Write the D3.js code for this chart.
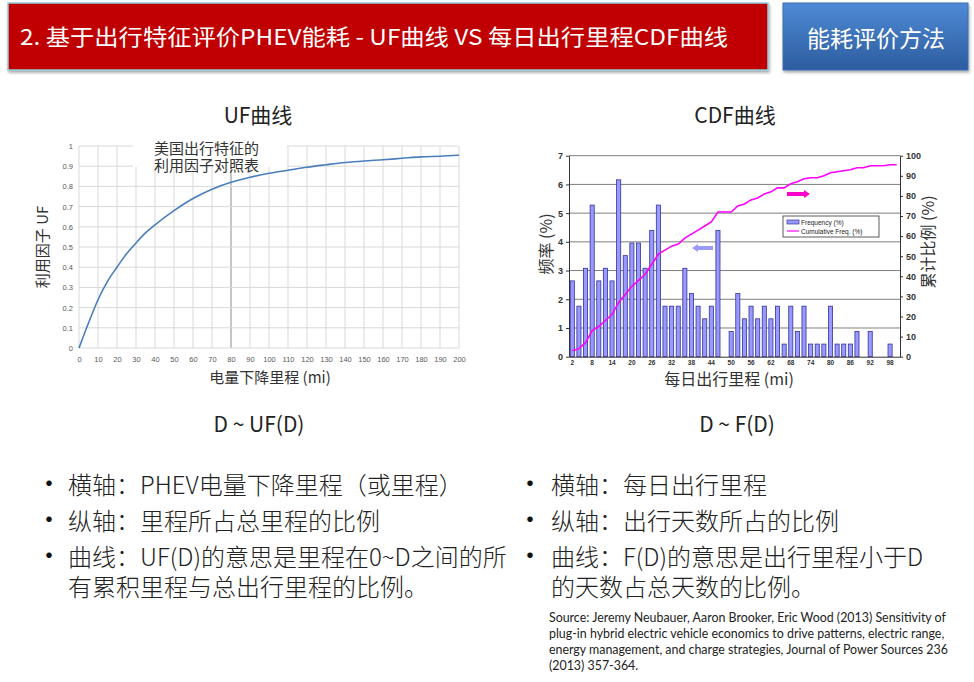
<!DOCTYPE html>
<html>
<head>
<meta charset="utf-8">
<script src="https://cdn.jsdelivr.net/npm/d3@7"></script>
<style>
  body { margin: 0; background: #fff; }
  svg { display: block; }
  text { font-family: "Noto Sans CJK SC", "Noto Sans", sans-serif; }
</style>
</head>
<body>
<svg width="974" height="682"></svg>
<script>
const svg = d3.select("svg");

// UF curve (utility factor vs charge-depleting range)
const ufMiles = [0, 5, 10, 15, 20, 25, 30, 35, 40, 50, 60, 70, 80, 90, 100, 110, 120, 130, 140, 150, 160, 170, 180, 190, 200];
const ufValues = [0, 0.124, 0.239, 0.33, 0.40, 0.466, 0.52, 0.57, 0.61, 0.68, 0.74, 0.786, 0.82, 0.845, 0.865, 0.88, 0.895, 0.907, 0.918, 0.926, 0.932, 0.939, 0.946, 0.949, 0.954];
const ufXTicks = [0, 10, 20, 30, 40, 50, 60, 70, 80, 90, 100, 110, 120, 130, 140, 150, 160, 170, 180, 190, 200];
const ufYTicks = [0, 0.1, 0.2, 0.3, 0.4, 0.5, 0.6, 0.7, 0.8, 0.9, 1];

// daily distance distribution
const dailyMiles = [2, 4, 6, 8, 10, 12, 14, 16, 18, 20, 22, 24, 26, 28, 30, 32, 34, 36, 38, 40,
    42, 44, 46, 48, 50, 52, 54, 56, 58, 60, 62, 64, 66, 68, 70, 72, 74, 76, 78, 80,
    82, 84, 86, 88, 90, 92, 94, 96, 98, 100];
const frequency = [2.64, 1.76, 3.08, 5.28, 2.64, 3.08, 2.64, 6.16, 3.52, 3.96, 3.96, 3.08, 4.40, 5.28, 1.76, 1.76, 1.76, 3.08, 2.20, 1.76,
    1.32, 1.76, 4.40, 0, 0.88, 2.20, 1.32, 1.76, 1.32, 1.76, 1.32, 1.76, 0.44, 1.76, 0.88, 1.76, 0.44, 0.44, 0.44, 1.76,
    0.44, 0.44, 0.44, 0.88, 0, 0.88, 0, 0, 0.44, 0];
const cumulative = [3, 4, 7, 13, 15, 18, 21, 27, 31, 35, 38, 41, 46, 51, 53, 55, 56, 59, 61, 63,
    65, 67, 72, 72, 72, 75, 76, 78, 79, 81, 82, 84, 84, 86, 87, 88.5, 89, 89, 90, 91.5,
    92, 92.5, 93, 94, 94, 95, 95, 95, 95.5, 95.5];
const cdfXTicks = [2, 8, 14, 20, 26, 32, 38, 44, 50, 56, 62, 68, 74, 80, 86, 92, 98];
const freqTicks = [0, 1, 2, 3, 4, 5, 6, 7];
const cumTicks = [0, 10, 20, 30, 40, 50, 60, 70, 80, 90, 100];

// ---------- header ----------
const defs = svg.append("defs");
const grad = defs.append("linearGradient").attr("id", "blueGrad")
    .attr("x1", 0).attr("y1", 0).attr("x2", 0).attr("y2", 1);
grad.append("stop").attr("offset", "0%").attr("stop-color", "#4f8ad6");
grad.append("stop").attr("offset", "100%").attr("stop-color", "#2c5c9e");

const shadow = defs.append("filter").attr("id", "shadow")
    .attr("x", "-5%").attr("y", "-10%").attr("width", "110%").attr("height", "130%");
shadow.append("feDropShadow").attr("dx", 1).attr("dy", 2).attr("stdDeviation", 1.5)
    .attr("flood-color", "#000").attr("flood-opacity", 0.35);

svg.append("rect")
    .attr("x", 8).attr("y", 3).attr("width", 760).attr("height", 67)
    .attr("fill", "#c00000").attr("stroke", "#92cddc").attr("stroke-width", 1.5)
    .attr("filter", "url(#shadow)");

svg.append("text")
    .attr("x", 20).attr("y", 45)
    .attr("fill", "#fff")
    .style("font-size", "22px")
    .attr("textLength", 708).attr("lengthAdjust", "spacingAndGlyphs")
    .text("2.  基于出行特征评价PHEV能耗 - UF曲线 VS 每日出行里程CDF曲线");

svg.append("rect")
    .attr("x", 783).attr("y", 3).attr("width", 185).attr("height", 67)
    .attr("fill", "url(#blueGrad)").attr("stroke", "#3a6fb5")
    .attr("filter", "url(#shadow)");

svg.append("text")
    .attr("x", 876).attr("y", 47)
    .attr("text-anchor", "middle")
    .attr("fill", "#fff")
    .style("font-size", "23px")
    .text("能耗评价方法");

// ---------- titles ----------
svg.append("text").attr("x", 258).attr("y", 123).attr("text-anchor", "middle")
    .style("font-size", "21px").attr("fill", "#222").text("UF曲线");
svg.append("text").attr("x", 735).attr("y", 123).attr("text-anchor", "middle")
    .style("font-size", "21px").attr("fill", "#222").text("CDF曲线");
svg.append("text").attr("x", 259).attr("y", 432).attr("text-anchor", "middle")
    .style("font-size", "21px").attr("fill", "#222").text("D ~ UF(D)");
svg.append("text").attr("x", 737).attr("y", 432).attr("text-anchor", "middle")
    .style("font-size", "21px").attr("fill", "#222").text("D ~ F(D)");

// ---------- UF chart ----------
const uf = { left: 79, right: 459, top: 146, bottom: 348 };

const ufX = d3.scaleLinear().domain([0, 200]).range([uf.left, uf.right]);
const ufY = d3.scaleLinear().domain([0, 1]).range([uf.bottom, uf.top]);

const ufGrid = svg.append("g");
ufGrid.selectAll(".vg")
    .data(ufXTicks)
    .enter()
    .append("line")
    .attr("x1", d => ufX(d)).attr("x2", d => ufX(d))
    .attr("y1", uf.top).attr("y2", uf.bottom)
    .attr("stroke", d => d === 80 ? "#8c8c8c" : "#d9d9d9")
    .attr("stroke-width", 1);
ufGrid.selectAll(".hg")
    .data(ufYTicks)
    .enter()
    .append("line")
    .attr("x1", uf.left).attr("x2", uf.right)
    .attr("y1", d => ufY(d)).attr("y2", d => ufY(d))
    .attr("stroke", "#d9d9d9")
    .attr("stroke-width", 1);

const ufXAxis = svg.append("g")
    .attr("transform", `translate(0,${uf.bottom})`)
    .call(d3.axisBottom(ufX).tickValues(ufXTicks).tickSize(0).tickPadding(9));
ufXAxis.select(".domain").remove();
ufXAxis.selectAll("text").attr("fill", "#595959").style("font-size", "7.5px")
    .style("font-family", "Liberation Sans, Arial, sans-serif");

const ufYAxis = svg.append("g")
    .attr("transform", `translate(${uf.left},0)`)
    .call(d3.axisLeft(ufY).tickValues(ufYTicks).tickSize(0).tickPadding(6).tickFormat(d3.format("")));
ufYAxis.select(".domain").remove();
ufYAxis.selectAll("text").attr("fill", "#595959").style("font-size", "7.5px")
    .style("font-family", "Liberation Sans, Arial, sans-serif");

const ufLine = d3.line()
    .x((d, i) => ufX(ufMiles[i]))
    .y(d => ufY(d))
    .curve(d3.curveMonotoneX);

svg.append("path")
    .datum(ufValues)
    .attr("d", ufLine)
    .attr("fill", "none")
    .attr("stroke", "#4a7ebb")
    .attr("stroke-width", 1.6);

// note box
svg.append("rect")
    .attr("x", 133).attr("y", 137).attr("width", 154).attr("height", 30)
    .attr("fill", "#fff");
const note = svg.append("text")
    .style("font-size", "15px").attr("fill", "#333");
note.append("tspan").attr("x", 154).attr("y", 154).text("美国出行特征的");
note.append("tspan").attr("x", 154).attr("y", 171).text("利用因子对照表");

svg.append("text")
    .attr("transform", "translate(48,247) rotate(-90)")
    .attr("text-anchor", "middle")
    .style("font-size", "15px").attr("fill", "#333")
    .text("利用因子 UF");

svg.append("text")
    .attr("x", 270).attr("y", 383)
    .attr("text-anchor", "middle")
    .style("font-size", "15px").attr("fill", "#333")
    .text("电量下降里程 (mi)");

// ---------- CDF chart ----------
const cdf = { left: 569, right: 900, top: 155.7, bottom: 356.7 };

const cdfX = d3.scaleBand()
    .domain(dailyMiles)
    .range([cdf.left, cdf.right])
    .paddingInner(0.38)
    .paddingOuter(0.19);

const freqY = d3.scaleLinear().domain([0, 7]).range([cdf.bottom, cdf.top]);
const cumY = d3.scaleLinear().domain([0, 100]).range([cdf.bottom, cdf.top]);

svg.append("g").selectAll("line")
    .data(freqTicks.slice(1))
    .enter()
    .append("line")
    .attr("x1", cdf.left).attr("x2", cdf.right)
    .attr("y1", d => freqY(d)).attr("y2", d => freqY(d))
    .attr("stroke", "#7f7f7f").attr("stroke-width", 1);

svg.append("g").selectAll("rect")
    .data(frequency)
    .enter()
    .append("rect")
    .attr("x", (d, i) => cdfX(dailyMiles[i]))
    .attr("y", d => freqY(d))
    .attr("width", cdfX.bandwidth())
    .attr("height", d => cdf.bottom - freqY(d))
    .attr("fill", "#9999ff")
    .attr("stroke", "#333399")
    .attr("stroke-width", d => d > 0 ? 0.8 : 0);

const cumLine = d3.line()
    .x((d, i) => cdfX(dailyMiles[i]) + cdfX.bandwidth() / 2)
    .y(d => cumY(d));

svg.append("path")
    .datum(cumulative)
    .attr("d", cumLine)
    .attr("fill", "none")
    .attr("stroke", "#ff00ff")
    .attr("stroke-width", 1.6);

const tickFont = "Liberation Sans, Arial, sans-serif";

const cdfXAxis = svg.append("g")
    .attr("transform", `translate(0,${cdf.bottom})`)
    .call(d3.axisBottom(cdfX).tickValues(cdfXTicks).tickSize(0).tickPadding(4));
cdfXAxis.select(".domain").attr("stroke", "#333");
cdfXAxis.selectAll("text").attr("fill", "#333").style("font-size", "6.5px")
    .style("font-weight", "bold").style("font-family", tickFont);

const freqAxis = svg.append("g")
    .attr("transform", `translate(${cdf.left},0)`)
    .call(d3.axisLeft(freqY).tickValues(freqTicks).tickSize(3).tickSizeOuter(0).tickPadding(3)
        .tickFormat(d3.format("d")));
freqAxis.select(".domain").attr("stroke", "#333");
freqAxis.selectAll("line").attr("stroke", "#333");
freqAxis.selectAll("text").attr("fill", "#333").style("font-size", "9px")
    .style("font-weight", "bold").style("font-family", tickFont);

const cumAxis = svg.append("g")
    .attr("transform", `translate(${cdf.right},0)`)
    .call(d3.axisRight(cumY).tickValues(cumTicks).tickSize(3).tickSizeOuter(0).tickPadding(3)
        .tickFormat(d3.format("d")));
cumAxis.select(".domain").attr("stroke", "#333");
cumAxis.selectAll("line").attr("stroke", "#333");
cumAxis.selectAll("text").attr("fill", "#333").style("font-size", "9px")
    .style("font-weight", "bold").style("font-family", tickFont);

// legend
const legend = svg.append("g").attr("transform", "translate(783,216)");
legend.append("rect").attr("width", 96).attr("height", 21)
    .attr("fill", "#fff").attr("stroke", "#333").attr("stroke-width", 0.8);
legend.append("rect").attr("x", 4).attr("y", 4).attr("width", 12).attr("height", 4)
    .attr("fill", "#9999ff").attr("stroke", "#333399").attr("stroke-width", 0.7);
legend.append("text").attr("x", 18).attr("y", 9)
    .style("font-size", "6.5px").style("font-family", tickFont).attr("fill", "#222")
    .text("Frequency (%)");
legend.append("line").attr("x1", 4).attr("x2", 16).attr("y1", 15).attr("y2", 15)
    .attr("stroke", "#ff00ff").attr("stroke-width", 1.2);
legend.append("text").attr("x", 18).attr("y", 17.5)
    .style("font-size", "6.5px").style("font-family", tickFont).attr("fill", "#222")
    .text("Cumulative Freq. (%)");

// arrows
function arrow(x1, x2, y, color) {
    const dir = x2 > x1 ? 1 : -1;
    const head = 6 * dir;
    svg.append("path")
        .attr("d", `M${x1},${y - 2} L${x2 - head},${y - 2} L${x2 - head},${y - 4} L${x2},${y} ` +
            `L${x2 - head},${y + 4} L${x2 - head},${y + 2} L${x1},${y + 2} Z`)
        .attr("fill", color);
}
arrow(713, 692, 248, "#9999ff");
arrow(787, 810, 194, "#ff00cc");

svg.append("text")
    .attr("transform", "translate(552,244) rotate(-90)")
    .attr("text-anchor", "middle")
    .style("font-size", "16px").attr("fill", "#333")
    .text("频率 (%)");

svg.append("text")
    .attr("transform", "translate(934,242) rotate(-90)")
    .attr("text-anchor", "middle")
    .style("font-size", "16px").attr("fill", "#333")
    .text("累计比例 (%)");

svg.append("text")
    .attr("x", 729).attr("y", 385)
    .attr("text-anchor", "middle")
    .style("font-size", "16px").attr("fill", "#333")
    .text("每日出行里程 (mi)");

// ---------- bullets ----------
const leftBullets = [
    ["横轴：PHEV电量下降里程（或里程）"],
    ["纵轴：里程所占总里程的比例"],
    ["曲线：UF(D)的意思是里程在0~D之间的所", "有累积里程与总出行里程的比例。"]
];
const rightBullets = [
    ["横轴：每日出行里程"],
    ["纵轴：出行天数所占的比例"],
    ["曲线：F(D)的意思是出行里程小于D", "的天数占总天数的比例。"]
];
const bulletY = [494, 530, 566];

function drawBullets(items, bx, tx) {
    items.forEach(function(lines, i) {
        svg.append("text").attr("x", bx).attr("y", bulletY[i] - 1)
            .style("font-size", "26px").attr("fill", "#111").text("•");
        const t = svg.append("text")
            .style("font-size", "24px").style("font-weight", "300")
            .attr("fill", "#222");
        lines.forEach(function(line, j) {
            t.append("tspan").attr("x", tx).attr("y", bulletY[i] + j * 30).text(line);
        });
    });
}
drawBullets(leftBullets, 36, 68);
drawBullets(rightBullets, 517, 551);

// source
const source = svg.append("text")
    .style("font-size", "12.4px")
    .style("font-family", "Lato, 'Open Sans', sans-serif")
    .attr("fill", "#222");
[
    "Source: Jeremy Neubauer, Aaron Brooker, Eric Wood (2013) Sensitivity of",
    "plug-in hybrid electric vehicle economics to drive patterns, electric range,",
    "energy management, and charge strategies, Journal of Power Sources 236",
    "(2013) 357-364."
].forEach(function(line, i) {
    source.append("tspan").attr("x", 549).attr("y", 622 + i * 16).text(line);
});
</script>
</body>
</html>
